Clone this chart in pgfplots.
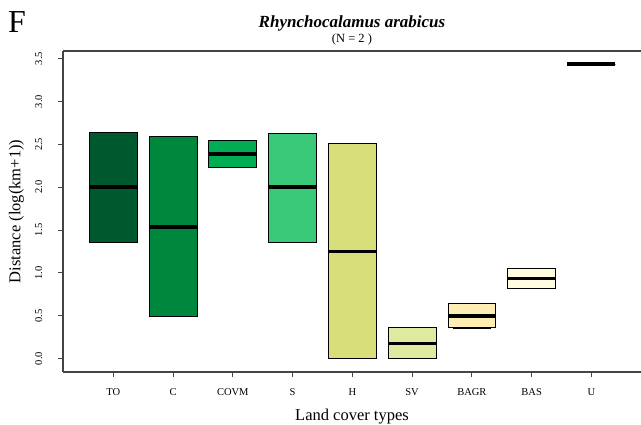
\documentclass[border=0pt]{standalone}
\usepackage{pgfplots}
\pgfplotsset{compat=1.18}
\usepgfplotslibrary{statistics}
\usepackage{fontspec}
\setmainfont{Liberation Serif}
\definecolor{cTO}{HTML}{00582E}
\definecolor{cC}{HTML}{00873E}
\definecolor{cCOVM}{HTML}{00AD52}
\definecolor{cS}{HTML}{3AC979}
\definecolor{cH}{HTML}{D7DE7A}
\definecolor{cSV}{HTML}{DFEAA0}
\definecolor{cBAGR}{HTML}{FFEEB3}
\definecolor{cBAS}{HTML}{FFFCDE}
\definecolor{axgray}{HTML}{444444}
\begin{document}
\begin{tikzpicture}
\useasboundingbox (-63pt,-53pt) rectangle (578pt,372pt);
\begin{axis}[
  at={(0pt,0pt)}, anchor=south west,
  scale only axis, width=578pt, height=321pt,
  xmin=0.158, xmax=9.83,
  ymin=-0.156, ymax=3.589,
  axis x line*=box, axis y line*=left,
  axis line style={axgray, line width=1.1pt},
  xtick pos=bottom, ytick pos=left,
  tick align=outside, major tick length=5pt,
  every tick/.style={axgray, line width=0.9pt},
  xtick={1,2,3,4,5,6,7,8,9},
  xticklabels={TO,C,COVM,S,H,SV,BAGR,BAS,U},
  ytick={0,0.5,1,1.5,2,2.5,3,3.5},
  /pgf/number format/.cd, fixed, fixed zerofill, precision=1, assume math mode=true,
  /pgfplots/.cd,
  xticklabel style={font=\fontsize{10.5}{12}\selectfont},
  yticklabel style={font=\fontsize{10.5}{12}\selectfont, rotate=90, anchor=south},
  xticklabel shift=7.7pt,
  yticklabel shift=12.3pt,
  xlabel={Land cover types},
  ylabel={Distance (log(km+1))},
  every axis x label/.style={at={(rel axis cs:0.5,0)}, anchor=base, yshift=-49pt, font=\fontsize{16.5}{19}\selectfont},
  every axis y label/.style={at={(rel axis cs:0,0.5)}, xshift=-46.5pt, rotate=90, anchor=center, font=\fontsize{16.5}{19}\selectfont},
  boxplot/draw direction=y,
  boxplot/box extend=0.8,
  boxplot/every median/.style={line width=3.6pt, black},
  boxplot/every box/.style={draw=black, line width=0.9pt},
  clip=false,
]
\addplot[fill=cTO, draw=black, boxplot prepared={lower whisker=1.357, lower quartile=1.357, median=2.0, upper quartile=2.636, upper whisker=2.636, draw position=1}] coordinates {};
\addplot[fill=cC, draw=black, boxplot prepared={lower whisker=0.49, lower quartile=0.49, median=1.536, upper quartile=2.59, upper whisker=2.59, draw position=2}] coordinates {};
\addplot[fill=cCOVM, draw=black, boxplot prepared={lower whisker=2.236, lower quartile=2.236, median=2.387, upper quartile=2.54, upper whisker=2.54, draw position=3}] coordinates {};
\addplot[fill=cS, draw=black, boxplot prepared={lower whisker=1.357, lower quartile=1.357, median=2.0, upper quartile=2.63, upper whisker=2.63, draw position=4}] coordinates {};
\addplot[fill=cH, draw=black, boxplot prepared={lower whisker=0, lower quartile=0, median=1.25, upper quartile=2.51, upper whisker=2.51, draw position=5}] coordinates {};
\addplot[fill=cSV, draw=black, boxplot prepared={lower whisker=0, lower quartile=0, median=0.176, upper quartile=0.36, upper whisker=0.36, draw position=6}] coordinates {};
\addplot[fill=cBAGR, draw=black, boxplot prepared={lower whisker=0.36, lower quartile=0.36, median=0.50, upper quartile=0.64, upper whisker=0.64, draw position=7}] coordinates {};
\addplot[fill=cBAS, draw=black, boxplot prepared={lower whisker=0.816, lower quartile=0.816, median=0.935, upper quartile=1.049, upper whisker=1.049, draw position=8}] coordinates {};
\addplot[fill=white, draw=black, boxplot prepared={lower whisker=3.434, lower quartile=3.434, median=3.434, upper quartile=3.434, upper whisker=3.434, draw position=9}] coordinates {};
\node[anchor=base, inner sep=0pt, text depth=0pt, font=\fontsize{17}{20}\selectfont\bfseries\itshape] at ([yshift=23.5pt]rel axis cs:0.5,1) {Rhynchocalamus arabicus};
\node[anchor=base, inner sep=0pt, text height=8pt, font=\fontsize{12.5}{15}\selectfont] at ([yshift=8.5pt]rel axis cs:0.5,1) {(N = 2 )};
\end{axis}
\node[anchor=base west, inner sep=0pt, font=\fontsize{32}{36}\selectfont] at (-55pt,339pt) {F};
\end{tikzpicture}
\end{document}
